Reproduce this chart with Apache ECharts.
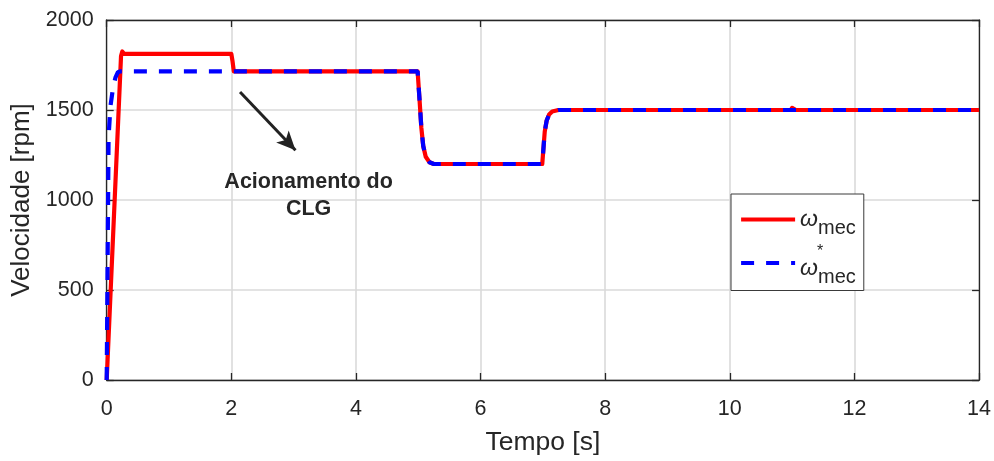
<!DOCTYPE html>
<html>
<head>
<meta charset="utf-8">
<script src="https://cdn.jsdelivr.net/npm/echarts@6/dist/echarts.min.js"></script>
<style>
  html, body { margin: 0; padding: 0; background: #fff; }
  #chart { width: 994px; height: 461px; }
</style>
</head>
<body>
<div id="chart"></div>
<script>
// Mechanical speed (measured) vs time
var timeMec = [0, 0.23, 0.25, 0.28, 2.0, 2.02, 2.04, 4.99, 5.02, 5.05, 5.08, 5.12, 5.18, 5.25,
               6.99, 7.01, 7.03, 7.06, 7.10, 7.15, 7.25, 10.98, 11.0, 11.03, 11.06, 14];
var speedMec = [0, 1800, 1825, 1812, 1812, 1770, 1715, 1715, 1560, 1400, 1300, 1240, 1210, 1200,
                1200, 1290, 1380, 1440, 1475, 1492, 1500, 1500, 1512, 1505, 1500, 1500];

// Speed reference vs time
var timeRef = [0, 0.03, 0.06, 0.10, 0.14, 0.18, 0.22, 4.99, 5.02, 5.05, 5.08, 5.12, 5.18, 5.25,
               6.99, 7.01, 7.03, 7.06, 7.10, 7.15, 7.25, 14];
var speedRef = [0, 1350, 1520, 1620, 1680, 1710, 1715, 1715, 1560, 1400, 1300, 1240, 1210, 1200,
                1200, 1290, 1380, 1440, 1475, 1492, 1500, 1500];

// Axis settings
var xTicks = { min: 0, max: 14, interval: 2 };
var yTicks = { min: 0, max: 2000, interval: 500 };

// Annotation: arrow from/to and text anchor (data coordinates)
var arrowFrom = [2.14, 1600];
var arrowTo = [3.03, 1276];
var noteAt = [3.24, 1025];
var noteText = 'Acionamento do\nCLG';

function pairs(t, v) {
  var out = [];
  for (var i = 0; i < t.length; i++) out.push([t[i], v[i]]);
  return out;
}

var FONT = '"Liberation Sans", Arial, sans-serif';
var INK = '#262626';

var chart = echarts.init(document.getElementById('chart'), null, { renderer: 'canvas' });

var legendRich = {
  star: { fontSize: 16, lineHeight: 12, color: INK, fontFamily: FONT, padding: [0, 0, 0, 17] },
  w: { fontSize: 23, fontStyle: 'italic', color: INK, fontFamily: FONT, lineHeight: 22 },
  sub: { fontSize: 20, color: INK, fontFamily: FONT, lineHeight: 20, padding: [17, 0, 0, 0] }
};

function plainNumber(v) { return String(v); }

// Box axes: dark axis line on every side, short ticks turned into the plot area
function boxAxis(extra) {
  var base = {
    type: 'value',
    axisLine: { show: true, onZero: false, lineStyle: { color: INK, width: 1.3 } },
    axisTick: { show: true, inside: true, length: 7, lineStyle: { color: INK, width: 1.3 } },
    axisLabel: { show: false },
    splitLine: { show: false }
  };
  return Object.assign(base, extra);
}

chart.setOption({
  animation: false,
  backgroundColor: '#fff',
  grid: { left: 106.7, right: 12.3, top: 20, bottom: 79 },
  xAxis: [boxAxis({
    position: 'bottom', min: xTicks.min, max: xTicks.max, interval: xTicks.interval,
    name: 'Tempo [s]', nameLocation: 'middle', nameGap: 49,
    nameTextStyle: { fontSize: 26.5, color: INK, fontFamily: FONT },
    axisLabel: { show: true, fontSize: 21.5, color: INK, fontFamily: FONT, margin: 18, formatter: plainNumber },
    splitLine: { show: true, lineStyle: { color: '#dadada', width: 1.6 } }
  }), boxAxis({
    position: 'top', min: xTicks.min, max: xTicks.max, interval: xTicks.interval
  })],
  yAxis: [boxAxis({
    position: 'left', min: yTicks.min, max: yTicks.max, interval: yTicks.interval,
    name: 'Velocidade [rpm]', nameLocation: 'middle', nameGap: 69,
    nameTextStyle: { fontSize: 26, color: INK, fontFamily: FONT },
    axisLabel: { show: true, fontSize: 21.5, color: INK, fontFamily: FONT, margin: 13, formatter: plainNumber },
    splitLine: { show: true, lineStyle: { color: '#dadada', width: 1.6 } }
  }), boxAxis({
    position: 'right', min: yTicks.min, max: yTicks.max, interval: yTicks.interval
  })],
  legend: {
    orient: 'vertical', left: 731, top: 194,
    padding: [7, 8, 3, 8], itemGap: 6, itemWidth: 54, itemHeight: 14,
    backgroundColor: '#fff', borderColor: '#3a3a3a', borderWidth: 1, borderRadius: 0,
    selectedMode: false,
    itemStyle: { opacity: 0 },
    lineStyle: { width: 4.2 },
    data: ['mec', 'ref'],
    textStyle: { rich: legendRich },
    formatter: function (name) {
      if (name === 'ref') return '{star|*}\n{w|ω}{sub|mec}';
      return '{w|ω}{sub|mec}';
    }
  },
  series: [{
    name: 'mec', type: 'line', xAxisIndex: 0, yAxisIndex: 0,
    data: pairs(timeMec, speedMec), showSymbol: false, symbol: 'none',
    lineStyle: { color: '#ff0000', width: 4.2, join: 'round' },
    itemStyle: { color: '#ff0000' },
    markPoint: {
      silent: true, symbol: 'circle', symbolSize: 0,
      data: [{ coord: noteAt, value: 0 }],
      label: {
        show: true, position: 'inside', formatter: noteText,
        fontSize: 21.5, fontWeight: 'bold', color: INK, fontFamily: FONT, lineHeight: 27, align: 'center'
      }
    }
  }, {
    name: 'ref', type: 'line', xAxisIndex: 0, yAxisIndex: 0,
    data: pairs(timeRef, speedRef), showSymbol: false, symbol: 'none',
    lineStyle: { color: '#0000ff', width: 4.2, type: [13, 12] },
    itemStyle: { color: '#0000ff' },
    markLine: {
      silent: true, symbol: ['none', 'arrow'], symbolSize: [13, 19],
      lineStyle: { color: '#222', width: 3, type: 'solid' },
      label: { show: false },
      data: [[{ coord: arrowFrom }, { coord: arrowTo }]]
    }
  }]
});
</script>
</body>
</html>
